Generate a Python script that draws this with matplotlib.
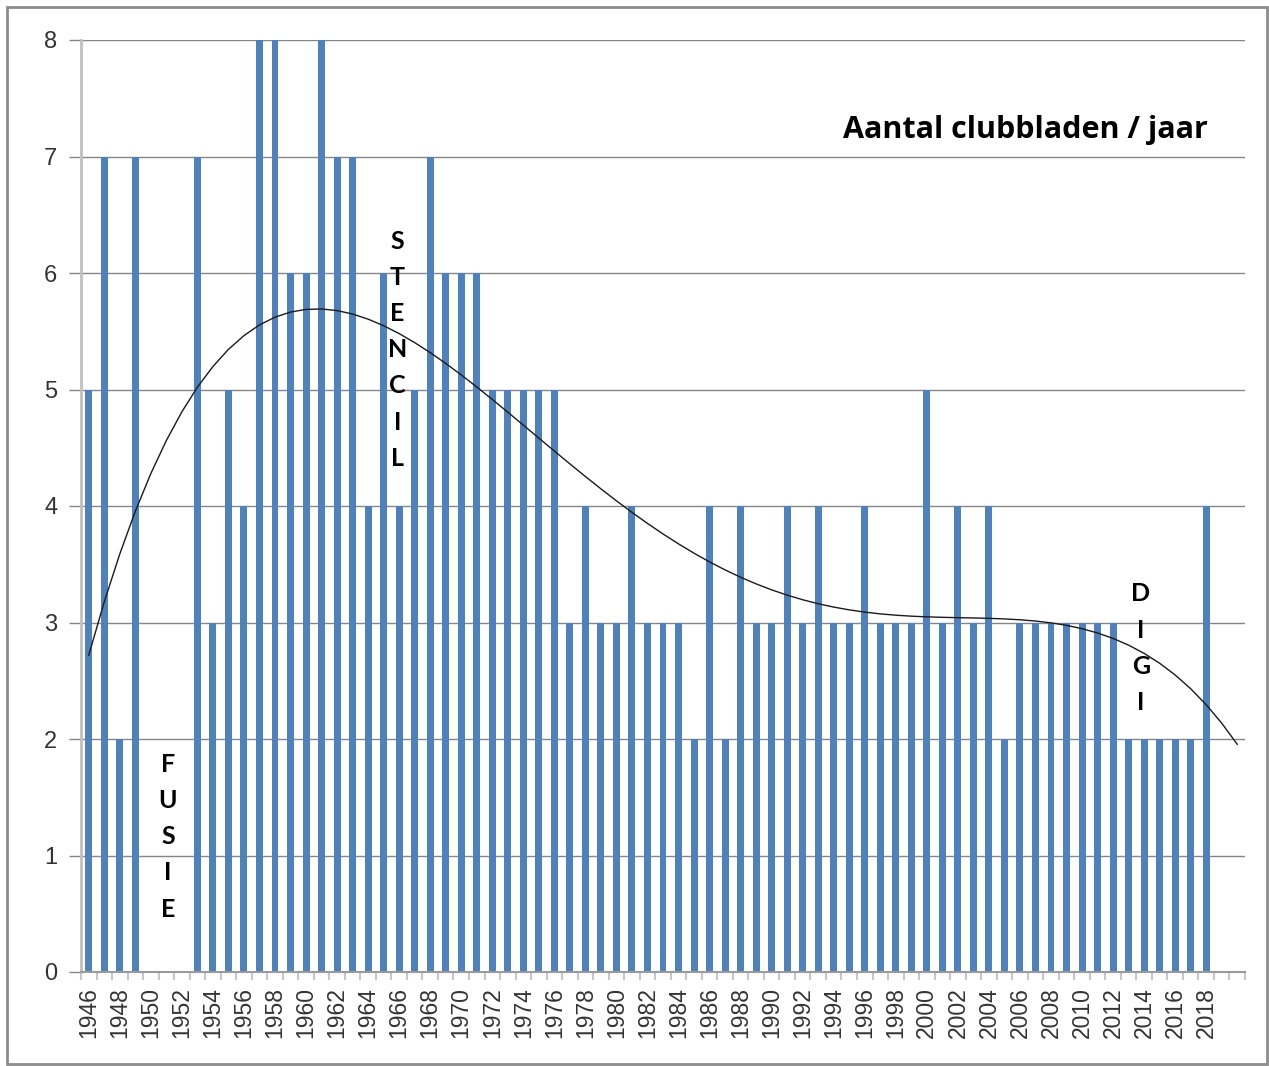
import numpy as np
import matplotlib.pyplot as plt
from matplotlib.patches import Rectangle

# Jaren op de categorie-as (2019 en 2020 zonder waarde)
years = list(range(1946, 2021))
counts = [5, 7, 2, 7, 0, 0, 0, 7, 3, 5,
          4, 8, 8, 6, 6, 8, 7, 7, 4, 6,
          4, 5, 7, 6, 6, 6, 5, 5, 5, 5,
          5, 3, 4, 3, 3, 4, 3, 3, 3, 2,
          4, 2, 4, 3, 3, 4, 3, 4, 3, 3,
          4, 3, 3, 3, 5, 3, 4, 3, 4, 2,
          3, 3, 3, 3, 3, 3, 3, 2, 2, 2,
          2, 2, 4]
tick_years = [str(y) if (y % 2 == 0 and y <= 2018) else '' for y in years]

title = 'Aantal clubbladen / jaar'
# Tekstlabels in de grafiek: (woord, jaar, hoogte van eerste letter)
labels = [('FUSIE', 1951.1, 1.78),
          ('STENCIL', 1965.9, 6.27),
          ('DIGI', 2013.8, 3.245)]

fig = plt.figure(figsize=(12.69, 10.66), dpi=100)
ax = fig.add_axes([81 / 1269, 94 / 1066, (1245 - 81) / 1269, (972 - 40) / 1066])

x = np.arange(len(years))
ax.bar(x[:len(counts)], counts, width=0.45, color='#4F81BD', zorder=2)

# Polynomiale trendlijn (graad 4), zoals in Excel, doorgetrokken tot 2020
xs = np.arange(1, len(counts) + 1)
p = np.polyfit(xs, counts, 4)
ax.plot(x, np.polyval(p, np.arange(1, len(years) + 1)), color='#1a1a1a', lw=1, zorder=3)

ax.set_xlim(-0.5, len(years) - 0.5)
ax.set_ylim(0, 8)
ax.set_xticks(x)
ax.set_xticklabels(tick_years, rotation=90, fontsize=16.5, family='Liberation Sans', color='#333333')
ax.set_xticks(np.arange(-0.5, len(years)), minor=True)
ax.tick_params(axis='x', which='major', length=0, pad=11)
ax.tick_params(axis='x', which='minor', length=6, width=1.5, color='#c8c8c8')
ax.set_yticks(range(0, 9))
ax.set_yticklabels([str(v) for v in range(0, 9)], fontsize=17, family='Liberation Sans', color='#333333')
ax.tick_params(axis='y', length=9, width=1, color='#868686', pad=8)
ax.grid(axis='y', color='#868686', lw=1)
ax.set_axisbelow(True)

for s in ['top', 'right']:
    ax.spines[s].set_visible(False)
ax.spines['left'].set_color('#c0c0c0')
ax.spines['left'].set_linewidth(2)
ax.spines['bottom'].set_color('#9a9a9a')
ax.spines['bottom'].set_linewidth(1.5)

for word, yr, y0 in labels:
    for i, ch in enumerate(word):
        ax.annotate(ch, xy=(yr - 1946, y0), xytext=(0, -i * 26), textcoords='offset points',
                    ha='center', va='center', fontsize=18, fontweight='bold',
                    family='Lato', color='black', zorder=5)

fig.text(1208 / 1269, (1066 - 130) / 1066, title, ha='right', va='center',
         fontsize=22, fontweight='bold', family='Open Sans', color='black')

# Rand om het grafiekgebied
fig.patches.append(Rectangle((7 / 1269, 2 / 1066), 1260 / 1269, 1057 / 1066,
                             transform=fig.transFigure, fill=False,
                             edgecolor='#8c8c8c', lw=2))

fig.savefig('out.png', dpi=100)
